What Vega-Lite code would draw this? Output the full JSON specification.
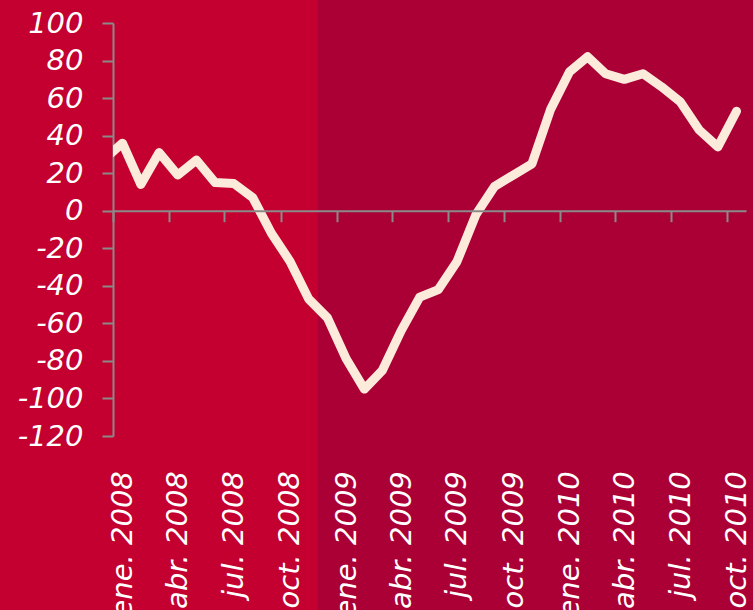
{
  "$schema": "https://vega.github.io/schema/vega-lite/v6.json",
  "width": 633,
  "height": 413,
  "autosize": "none",
  "padding": {"left": 113, "top": 23, "right": 7, "bottom": 174},
  "background": "#C3002F",
  "config": {
    "view": {"stroke": null},
    "locale": {
      "number": {"decimal": ",", "thousands": ".", "grouping": [3], "currency": ["", " €"], "minus": "-"},
      "time": {
        "dateTime": "%A, %e de %B de %Y, %X",
        "date": "%d/%m/%Y",
        "time": "%H:%M:%S",
        "periods": ["AM", "PM"],
        "days": ["domingo", "lunes", "martes", "miércoles", "jueves", "viernes", "sábado"],
        "shortDays": ["dom", "lun", "mar", "mié", "jue", "vie", "sáb"],
        "months": ["enero", "febrero", "marzo", "abril", "mayo", "junio", "julio", "agosto", "septiembre", "octubre", "noviembre", "diciembre"],
        "shortMonths": ["ene", "feb", "mar", "abr", "may", "jun", "jul", "ago", "sep", "oct", "nov", "dic"]
      }
    },
    "axisY": {
      "values": [-120, -100, -80, -60, -40, -20, 0, 20, 40, 60, 80, 100],
      "labelFont": "DejaVu Sans",
      "labelFontSize": 29,
      "labelFontStyle": "italic",
      "labelColor": "#FFFFFF",
      "labelPadding": 19,
      "labelOverlap": false,
      "labelFlush": false,
      "domainColor": "#8A8A8A",
      "domainWidth": 2,
      "tickColor": "#8A8A8A",
      "tickWidth": 2,
      "tickSize": 11,
      "grid": false,
      "zindex": 1,
      "title": null
    }
  },
  "data": {
    "values": [
      {"mes": "2007-12-01", "valor": 27},
      {"mes": "2008-01-01", "valor": 36},
      {"mes": "2008-02-01", "valor": 14},
      {"mes": "2008-03-01", "valor": 31},
      {"mes": "2008-04-01", "valor": 19},
      {"mes": "2008-05-01", "valor": 27},
      {"mes": "2008-06-01", "valor": 15},
      {"mes": "2008-07-01", "valor": 14.5},
      {"mes": "2008-08-01", "valor": 7},
      {"mes": "2008-09-01", "valor": -12},
      {"mes": "2008-10-01", "valor": -27},
      {"mes": "2008-11-01", "valor": -47},
      {"mes": "2008-12-01", "valor": -57},
      {"mes": "2009-01-01", "valor": -79},
      {"mes": "2009-02-01", "valor": -95},
      {"mes": "2009-03-01", "valor": -85},
      {"mes": "2009-04-01", "valor": -64},
      {"mes": "2009-05-01", "valor": -46},
      {"mes": "2009-06-01", "valor": -42},
      {"mes": "2009-07-01", "valor": -27},
      {"mes": "2009-08-01", "valor": -2},
      {"mes": "2009-09-01", "valor": 13},
      {"mes": "2009-10-01", "valor": 19},
      {"mes": "2009-11-01", "valor": 25},
      {"mes": "2009-12-01", "valor": 54},
      {"mes": "2010-01-01", "valor": 74},
      {"mes": "2010-02-01", "valor": 82},
      {"mes": "2010-03-01", "valor": 73},
      {"mes": "2010-04-01", "valor": 70},
      {"mes": "2010-05-01", "valor": 73},
      {"mes": "2010-06-01", "valor": 66},
      {"mes": "2010-07-01", "valor": 58},
      {"mes": "2010-08-01", "valor": 43},
      {"mes": "2010-09-01", "valor": 34},
      {"mes": "2010-10-01", "valor": 53}
    ]
  },
  "layer": [
    {
      "data": {"values": [{"periodo": "sombreado"}]},
      "mark": {"type": "rect", "color": "#AA0036"},
      "encoding": {
        "x": {"datum": {"year": 2008, "month": 12, "date": 1, "utc": true}, "type": "temporal"},
        "x2": {"datum": {"year": 2011, "month": 2, "date": 1, "utc": true}},
        "y": {
          "datum": 116,
          "type": "quantitative",
          "axis": {"values": [-120, -100, -80, -60, -40, -20, 0, 20, 40, 60, 80, 100], "labelOverlap": false, "title": null}
        },
        "y2": {"datum": -222}
      }
    },
    {
      "mark": {"type": "line", "color": "#FCEADB", "strokeWidth": 9, "strokeCap": "round", "strokeJoin": "round", "clip": true},
      "encoding": {
        "x": {
          "field": "mes",
          "timeUnit": "utcyearmonth",
          "type": "temporal",
          "bandPosition": 0.5,
          "scale": {
            "type": "utc",
            "domain": [
              {"year": 2008, "month": 1, "date": 1, "utc": true},
              {"year": 2010, "month": 11, "date": 1, "utc": true}
            ],
            "nice": false
          },
          "axis": {
            "title": null,
            "orient": "bottom",
            "offset": -225.3,
            "values": [
              {"year": 2008, "month": 1, "date": 1, "utc": true},
              {"year": 2008, "month": 4, "date": 1, "utc": true},
              {"year": 2008, "month": 7, "date": 1, "utc": true},
              {"year": 2008, "month": 10, "date": 1, "utc": true},
              {"year": 2009, "month": 1, "date": 1, "utc": true},
              {"year": 2009, "month": 4, "date": 1, "utc": true},
              {"year": 2009, "month": 7, "date": 1, "utc": true},
              {"year": 2009, "month": 10, "date": 1, "utc": true},
              {"year": 2010, "month": 1, "date": 1, "utc": true},
              {"year": 2010, "month": 4, "date": 1, "utc": true},
              {"year": 2010, "month": 7, "date": 1, "utc": true},
              {"year": 2010, "month": 10, "date": 1, "utc": true}
            ],
            "format": "%b. %Y",
            "labelAngle": -90,
            "labelAlign": "right",
            "labelBaseline": "middle",
            "labelOffset": 9.3,
            "labelPadding": 249,
            "labelFont": "DejaVu Sans",
            "labelFontSize": 29,
            "labelFontStyle": "italic",
            "labelColor": "#FFFFFF",
            "labelOverlap": false,
            "labelBound": false,
            "labelFlush": false,
            "domainColor": "#8A8A8A",
            "domainWidth": 2,
            "tickColor": "#8A8A8A",
            "tickWidth": 2,
            "tickSize": 11,
            "grid": false,
            "zindex": 1
          }
        },
        "y": {
          "field": "valor",
          "type": "quantitative",
          "scale": {"domain": [-120, 100], "nice": false, "zero": false},
          "axis": {"values": [-120, -100, -80, -60, -40, -20, 0, 20, 40, 60, 80, 100], "labelOverlap": false, "title": null}
        }
      }
    }
  ]
}
